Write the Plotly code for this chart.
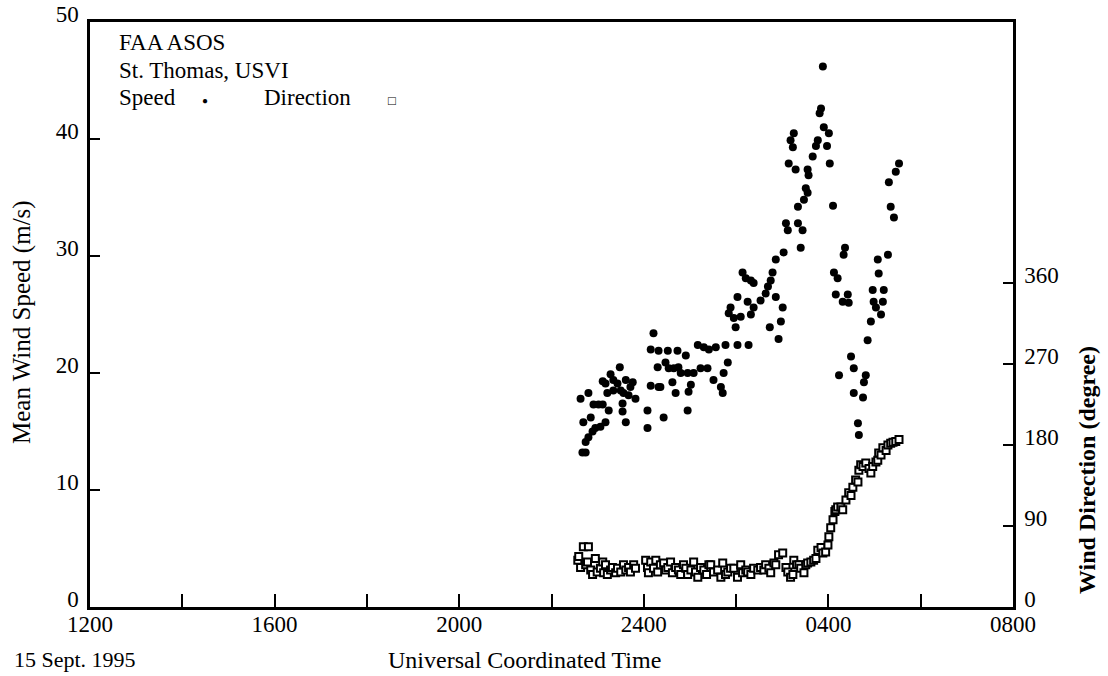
import plotly.graph_objects as go

# Time in hours after 1200 UTC, 15 Sept. 1995
speed_time = [10.63, 10.67, 10.69, 10.74, 10.74, 10.80, 10.80, 10.85, 10.89, 10.91, 10.95, 11.02, 11.06,
              11.11, 11.11, 11.17, 11.17, 11.21, 11.24, 11.28, 11.34, 11.34, 11.43, 11.48, 11.50, 11.54,
              11.54, 11.56, 11.61, 11.61, 11.67, 11.71, 11.76, 11.82, 12.08, 12.08, 12.15, 12.15, 12.21,
              12.30, 12.32, 12.32, 12.36, 12.43, 12.47, 12.52, 12.54, 12.62, 12.65, 12.69, 12.73, 12.75,
              12.80, 12.91, 12.95, 12.95, 12.97, 13.02, 13.08, 13.17, 13.23, 13.30, 13.38, 13.41, 13.51,
              13.56, 13.67, 13.71, 13.73, 13.77, 13.82, 13.84, 13.88, 13.95, 13.99, 14.03, 14.03, 14.10,
              14.14, 14.21, 14.25, 14.27, 14.32, 14.32, 14.38, 14.38, 14.53, 14.64, 14.69, 14.73, 14.75,
              14.79, 14.86, 14.86, 14.92, 14.97, 15.01, 15.03, 15.08, 15.12, 15.14, 15.18, 15.23, 15.25,
              15.29, 15.34, 15.34, 15.40, 15.44, 15.47, 15.51, 15.55, 15.55, 15.57, 15.66, 15.73, 15.77,
              15.81, 15.84, 15.88, 15.90, 15.97, 16.01, 16.03, 16.10, 16.12, 16.16, 16.20, 16.23, 16.31,
              16.33, 16.36, 16.42, 16.44, 16.49, 16.55, 16.55, 16.64, 16.66, 16.75, 16.77, 16.81, 16.85,
              16.92, 16.96, 16.98, 17.03, 17.07, 17.09, 17.14, 17.18, 17.20, 17.29, 17.31, 17.35, 17.42,
              17.46, 17.53]
speed_ms = [17.8, 13.2, 15.8, 13.2, 14.1, 14.5, 18.3, 16.2, 15.0, 17.3, 15.3, 17.3, 15.4,
            19.3, 17.3, 15.8, 19.1, 18.3, 16.8, 19.9, 19.4, 18.5, 19.1, 20.5, 18.5, 17.4,
            16.7, 18.3, 19.4, 15.8, 18.1, 18.8, 19.2, 17.8, 16.8, 15.3, 18.9, 22.0, 23.4,
            20.5, 18.8, 21.9, 18.8, 16.2, 20.9, 21.9, 20.4, 19.2, 20.4, 18.3, 21.9, 20.5,
            20.0, 21.5, 20.0, 16.8, 18.4, 19.0, 20.0, 22.4, 20.4, 22.2, 20.4, 22.0, 19.4,
            22.2, 18.8, 18.3, 20.0, 22.4, 20.9, 25.1, 25.6, 24.7, 23.9, 22.4, 26.5, 24.8,
            28.6, 28.1, 26.1, 22.4, 27.9, 25.0, 27.7, 25.6, 26.2, 26.8, 27.4, 23.9, 27.9,
            28.6, 29.7, 26.5, 22.9, 24.4, 25.6, 30.3, 32.8, 32.2, 37.9, 39.9, 39.3, 40.5,
            37.4, 34.2, 32.8, 30.7, 32.2, 34.8, 35.8, 35.4, 37.4, 36.9, 38.5, 39.4, 39.9,
            42.2, 42.6, 46.2, 41.0, 39.4, 40.5, 37.9, 34.3, 28.6, 26.7, 28.1, 19.8, 26.1,
            30.1, 30.7, 26.7, 26.0, 21.4, 20.4, 18.3, 15.7, 14.7, 17.9, 19.2, 19.8, 22.8,
            24.4, 27.1, 26.1, 25.6, 29.7, 28.5, 25.0, 26.1, 27.1, 30.1, 36.3, 34.2, 33.3,
            37.2, 37.9]

dir_time = [10.57, 10.59, 10.69, 10.80, 10.63, 10.74, 10.78, 10.85, 10.89, 10.95, 10.99, 11.06, 11.11,
            11.13, 11.17, 11.21, 11.28, 11.32, 11.39, 11.43, 11.50, 11.56, 11.61, 11.67, 11.71, 11.78,
            11.82, 12.04, 12.08, 12.10, 12.15, 12.21, 12.26, 12.30, 12.36, 12.43, 12.47, 12.52, 12.58,
            12.62, 12.69, 12.75, 12.80, 12.86, 12.91, 12.95, 13.02, 13.08, 13.12, 13.17, 13.23, 13.30,
            13.36, 13.41, 13.45, 13.51, 13.60, 13.67, 13.71, 13.77, 13.82, 13.88, 13.95, 14.03, 14.10,
            14.14, 14.21, 14.25, 14.32, 14.38, 14.47, 14.53, 14.60, 14.64, 14.71, 14.75, 14.82, 14.86,
            14.92, 15.01, 15.08, 15.12, 15.18, 15.23, 15.25, 15.31, 15.36, 15.40, 15.47, 15.51, 15.55,
            15.62, 15.68, 15.73, 15.77, 15.84, 15.88, 15.94, 15.99, 16.01, 16.05, 16.10, 16.14, 16.16,
            16.20, 16.27, 16.31, 16.38, 16.44, 16.49, 16.53, 16.59, 16.64, 16.66, 16.70, 16.75, 16.81,
            16.88, 16.92, 16.96, 17.03, 17.07, 17.09, 17.14, 17.18, 17.25, 17.29, 17.35, 17.40, 17.46,
            17.53]
dir_deg = [52, 56, 67, 67, 44, 47, 50, 41, 36, 54, 39, 43, 50,
           38, 47, 36, 41, 44, 38, 43, 39, 47, 41, 44, 39, 47,
           43, 52, 44, 38, 50, 43, 52, 39, 47, 49, 41, 44, 50,
           38, 44, 41, 36, 47, 43, 36, 41, 50, 39, 33, 44, 41,
           36, 47, 47, 39, 41, 33, 49, 36, 39, 43, 43, 33, 47,
           38, 41, 39, 36, 43, 41, 44, 41, 47, 43, 38, 49, 47,
           58, 60, 44, 39, 33, 36, 52, 47, 47, 43, 38, 47, 49,
           50, 52, 54, 63, 66, 60, 61, 69, 78, 88, 97, 106, 108,
           111, 111, 108, 119, 127, 124, 133, 141, 139, 152, 158, 156, 160,
           154, 149, 156, 161, 163, 171, 169, 177, 174, 180, 182, 183, 184,
           186]

x_tickvals = [0, 2, 4, 6, 8, 10, 12, 14, 16, 18, 20]
x_ticktext = ["1200", "", "1600", "", "2000", "", "2400", "", "0400", "", "0800"]
y_tickvals = [0, 10, 20, 30, 40, 50]
y2_tickvals = [0, 90, 180, 270, 360]

W, H = 1108, 676
L, R, T, B = 90, 1013, 22, 607
FONT = "Liberation Serif"


def px(x):
    return (x - L) / (R - L)


def py(y):
    return (B - y) / (B - T)


fig = go.Figure()
fig.add_trace(go.Scatter(
    x=dir_time, y=dir_deg, yaxis="y2", mode="markers", name="Direction",
    marker=dict(symbol="square", size=7, color="white", line=dict(color="black", width=2)),
))
fig.add_trace(go.Scatter(
    x=speed_time, y=speed_ms, mode="markers", name="Speed",
    marker=dict(symbol="circle", size=8, color="black", line=dict(width=0)),
))

tickfont = dict(family=FONT, size=23, color="black")
fig.update_layout(
    width=W, height=H,
    margin=dict(l=L, r=W - R, t=T, b=H - B, autoexpand=False),
    paper_bgcolor="white", plot_bgcolor="white",
    showlegend=False,
    font=dict(family=FONT, color="black"),
    xaxis=dict(range=[0, 20], tickvals=x_tickvals, ticktext=x_ticktext,
               ticks="inside", ticklen=13, tickwidth=1.5, tickcolor="black",
               showline=True, linewidth=2.5, linecolor="black", mirror=True,
               showgrid=False, zeroline=False, tickfont=tickfont,
               ticklabelstandoff=-5),
    yaxis=dict(range=[0, 50], tickvals=y_tickvals,
               ticks="inside", ticklen=10, tickwidth=1.5, tickcolor="black",
               showline=True, linewidth=2.5, linecolor="black",
               showgrid=False, zeroline=False, tickfont=tickfont,
               ticklabelstandoff=4, ticklabelshift=-8),
    yaxis2=dict(range=[0, 650], tickvals=y2_tickvals, overlaying="y", side="right",
                ticks="inside", ticklen=10, tickwidth=1.5, tickcolor="black",
                showline=True, linewidth=2.5, linecolor="black",
                showgrid=False, zeroline=False, tickfont=tickfont,
                ticklabelstandoff=4, ticklabelshift=-8),
)

ann = [
    dict(text="FAA ASOS", x=px(117), y=py(43), xanchor="left", yanchor="middle", size=23),
    dict(text="St. Thomas, USVI", x=px(117), y=py(70), xanchor="left", yanchor="middle", size=23),
    dict(text="Speed", x=px(117), y=py(98), xanchor="left", yanchor="middle", size=23),
    dict(text="●", x=px(205), y=py(101), xanchor="center", yanchor="middle", size=10),
    dict(text="Direction", x=px(262), y=py(98), xanchor="left", yanchor="middle", size=23),
    dict(text="<b>□</b>", x=px(392), y=py(101), xanchor="center", yanchor="middle", size=13),
    dict(text="15 Sept. 1995", x=px(12), y=py(660), xanchor="left", yanchor="middle", size=22),
    dict(text="Universal Coordinated Time", x=px(524), y=py(660), xanchor="center", yanchor="middle", size=24),
]
for a in ann:
    fig.add_annotation(text=a["text"], x=a["x"], y=a["y"], xref="paper", yref="paper",
                       xanchor=a["xanchor"], yanchor=a["yanchor"], showarrow=False,
                       font=dict(family=FONT, size=a["size"], color="black"))

fig.add_annotation(text="Mean Wind Speed (m/s)", x=px(22), y=py(322), xref="paper", yref="paper",
                   textangle=-90, showarrow=False, xanchor="center", yanchor="middle",
                   font=dict(family=FONT, size=25, color="black"))
fig.add_annotation(text="<b>Wind Direction (degree)</b>", x=px(1087), y=py(470), xref="paper", yref="paper",
                   textangle=-90, showarrow=False, xanchor="center", yanchor="middle",
                   font=dict(family=FONT, size=24, color="black"))

fig.write_html("out.html", config={"displayModeBar": False},
               post_script="document.body.style.margin='0';")
